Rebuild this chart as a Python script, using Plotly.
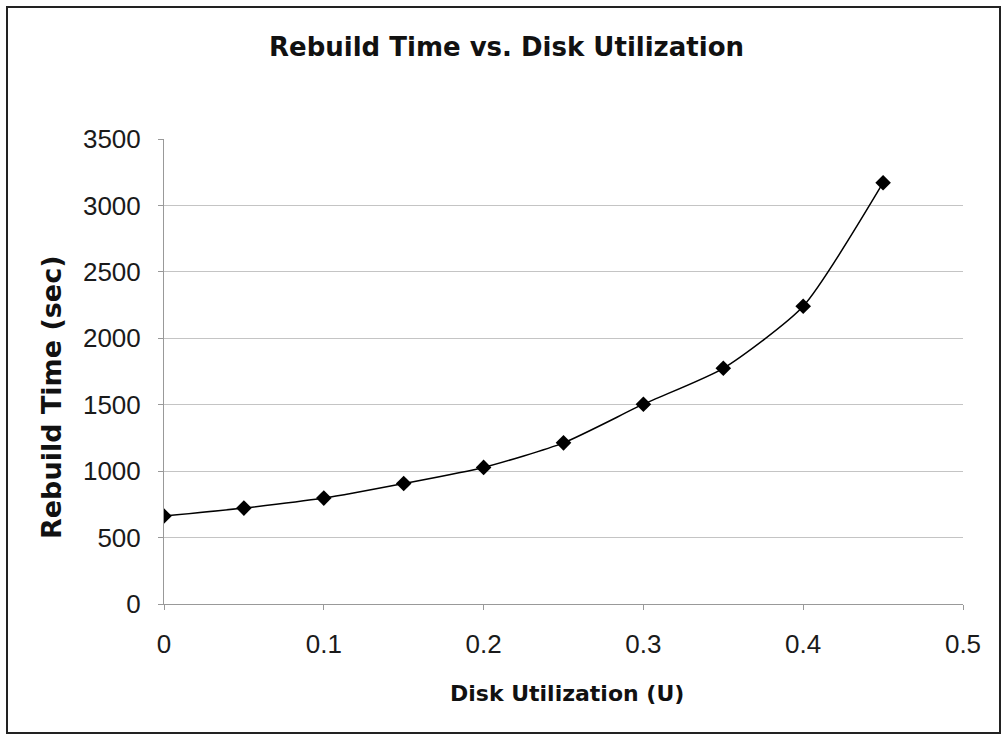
import plotly.graph_objects as go

utilization = [0.0, 0.05, 0.1, 0.15, 0.2, 0.25, 0.3, 0.35, 0.4, 0.45]
rebuild_time = [662, 722, 797, 907, 1028, 1213, 1504, 1774, 2241, 3171]

x_ticks = [0, 0.1, 0.2, 0.3, 0.4, 0.5]
x_tick_labels = ["0", "0.1", "0.2", "0.3", "0.4", "0.5"]
y_ticks = [0, 500, 1000, 1500, 2000, 2500, 3000, 3500]

W, H = 1002, 736
L, R, T, B = 164, 39, 139, 132
pw, ph = W - L - R, H - T - B

fig = go.Figure()
fig.add_trace(go.Scatter(
    x=utilization,
    y=rebuild_time,
    mode="lines+markers",
    line=dict(color="black", width=1.5, shape="spline", smoothing=0.6),
    marker=dict(symbol="diamond", size=12, color="black"),
    showlegend=False,
))

tick_font = dict(family="Liberation Sans, Arial", size=26, color="#1a1a1a")
bold_font = "DejaVu Sans, Verdana"

fig.update_layout(
    width=W,
    height=H,
    margin=dict(l=L, r=R, t=T, b=B),
    paper_bgcolor="white",
    plot_bgcolor="white",
    title=dict(
        text="<b>Rebuild Time vs. Disk Utilization</b>",
        x=506.5 / W, xanchor="center", y=1 - 47 / H, yanchor="middle",
        font=dict(family=bold_font, size=26, color="#111"),
    ),
    xaxis=dict(
        range=[0, 0.5],
        tickvals=x_ticks,
        ticktext=x_tick_labels,
        showgrid=False,
        showline=True,
        linecolor="#999",
        linewidth=1,
        ticks="outside",
        ticklen=5,
        tickcolor="#999",
        ticklabelstandoff=12,
        tickfont=tick_font,
        zeroline=False,
    ),
    yaxis=dict(
        range=[0, 3500],
        tickvals=y_ticks,
        showgrid=True,
        gridcolor="#c4c4c4",
        gridwidth=1,
        showline=True,
        linecolor="#999",
        linewidth=1,
        ticks="outside",
        ticklen=5,
        tickcolor="#999",
        ticklabelstandoff=12,
        tickfont=tick_font,
        zeroline=False,
    ),
)

# axis titles as annotations so they sit where the reference puts them
fig.add_annotation(
    text="<b>Disk Utilization (U)</b>",
    xref="paper", yref="paper",
    x=(566.5 - L) / pw, y=-(693 - T - ph) / ph,
    xanchor="center", yanchor="middle", showarrow=False,
    font=dict(family=bold_font, size=22, color="#111"),
)
fig.add_annotation(
    text="<b>Rebuild Time (sec)</b>",
    xref="paper", yref="paper",
    x=(51 - L) / pw, y=(T + ph - 397) / ph,
    xanchor="center", yanchor="middle", textangle=-90, showarrow=False,
    font=dict(family=bold_font, size=27, color="#111"),
)

# outer chart border
fig.add_shape(
    type="rect", xref="paper", yref="paper",
    x0=(7 - L) / pw, x1=(1000 - L) / pw,
    y0=-(733 - T - ph) / ph, y1=1 + (T - 7) / ph,
    line=dict(color="#222", width=2),
)

fig.write_html(
    "out.html",
    config={"displayModeBar": False},
    post_script="document.body.style.margin='0';",
)
